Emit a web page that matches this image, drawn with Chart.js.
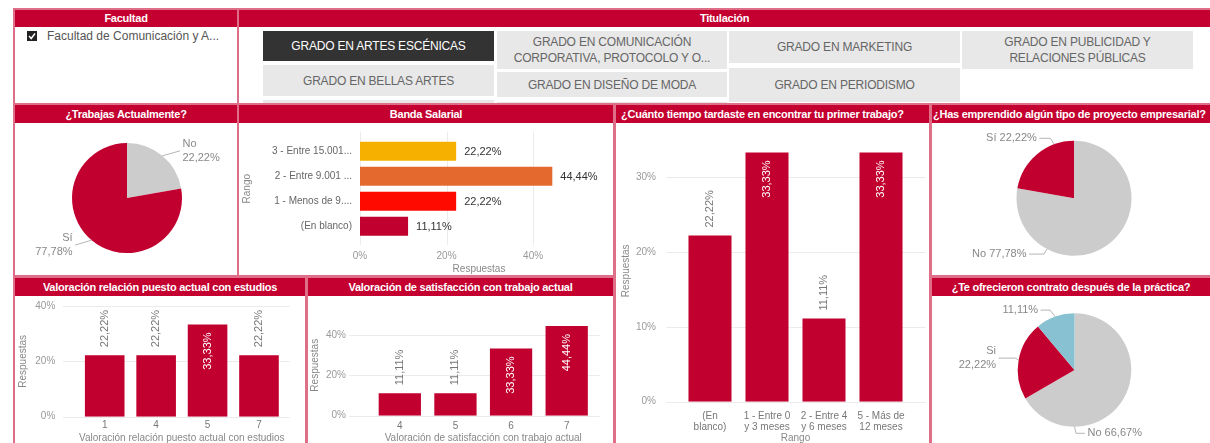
<!DOCTYPE html>
<html><head><meta charset="utf-8">
<script src="https://cdn.jsdelivr.net/npm/chart.js@4.4.1/dist/chart.umd.min.js"></script>
<style>
html,body{margin:0;padding:0;width:1210px;height:443px;overflow:hidden;background:#fff;font-family:'Liberation Sans',Arial,sans-serif;}
.panel{position:absolute;box-sizing:border-box;border:2px solid #df6f88;background:#fff;overflow:hidden;}
.hdr{position:absolute;left:0;right:0;top:0;height:18px;line-height:18px;background:#c3002f;color:#fff;font-size:11px;font-weight:bold;letter-spacing:-0.25px;text-align:center;white-space:nowrap;overflow:hidden;}
.hdr.l{text-align:left;}
.btn{position:absolute;box-sizing:border-box;background:#e8e8e8;color:#666;font-size:12px;display:flex;align-items:center;justify-content:center;text-align:center;line-height:16px;letter-spacing:-0.2px;}
.btn.sel{background:#333;color:#fff;}
canvas{position:absolute;}
</style></head><body>
<div class="panel" style="left:13px;top:8px;width:226px;height:98px;"><div class="hdr" style="height:17px;line-height:17px;">Facultad</div></div>
<div class="panel" style="left:237px;top:8px;width:975px;height:98px;"><div class="hdr" style="height:17px;line-height:17px;">Titulación</div></div>
<svg style="position:absolute;left:27px;top:31px" width="10" height="10"><rect x="0" y="0" width="10" height="10" fill="#222"/><polyline points="2,5 4.2,7.5 8,2.5" fill="none" stroke="#fff" stroke-width="1.5"/></svg>
<div style="position:absolute;left:47px;top:28px;font-size:12px;line-height:16px;color:#555;white-space:nowrap;">Facultad de Comunicación y A...</div>
<div class="btn sel" style="left:263px;top:31px;width:231px;height:30px;">GRADO EN ARTES ESCÉNICAS</div>
<div class="btn" style="left:263px;top:65px;width:231px;height:31px;">GRADO EN BELLAS ARTES</div>
<div class="btn" style="left:263px;top:99.5px;width:231px;height:30px;"></div>
<div class="btn" style="left:497px;top:31px;width:230px;height:38px;">GRADO EN COMUNICACIÓN<br>CORPORATIVA, PROTOCOLO Y O...</div>
<div class="btn" style="left:497px;top:72px;width:230px;height:25px;">GRADO EN DISEÑO DE MODA</div>
<div class="btn" style="left:497px;top:101.5px;width:230px;height:30px;"></div>
<div class="btn" style="left:729px;top:31px;width:231px;height:32px;">GRADO EN MARKETING</div>
<div class="btn" style="left:729px;top:68px;width:231px;height:34px;">GRADO EN PERIODISMO</div>
<div class="btn" style="left:962px;top:31px;width:231px;height:38px;">GRADO EN PUBLICIDAD Y<br>RELACIONES PÚBLICAS</div>

<div class="panel" style="left:13px;top:103px;width:226px;height:174px;"><div class="hdr">¿Trabajas Actualmente?</div></div>
<div class="panel" style="left:237px;top:103px;width:378px;height:174px;"><div class="hdr">Banda Salarial</div></div>
<div class="panel" style="left:614px;top:103px;width:317px;height:345px;"><div class="hdr l" style="padding-left:5px;">¿Cuánto tiempo tardaste en encontrar tu primer trabajo?</div></div>
<div class="panel" style="left:930px;top:103px;width:282px;height:174px;"><div class="hdr l" style="padding-left:1px;">¿Has emprendido algún tipo de proyecto empresarial?</div></div>
<div class="panel" style="left:13px;top:276px;width:294px;height:172px;"><div class="hdr">Valoración relación puesto actual con estudios</div></div>
<div class="panel" style="left:306px;top:276px;width:309px;height:172px;"><div class="hdr">Valoración de satisfacción con trabajo actual</div></div>
<div class="panel" style="left:930px;top:276px;width:282px;height:172px;"><div class="hdr">¿Te ofrecieron contrato después de la práctica?</div></div>

<script>
// ---- DATA ----
const trabajasCategorias = ['No', 'Sí'];
const trabajasValores = [22.22, 77.78];
const bandaCategorias = ['3 - Entre 15.001...', '2 - Entre 9.001 ...', '1 - Menos de 9....', '(En blanco)'];
const bandaValores = [22.22, 44.44, 22.22, 11.11];
const bandaTicks = [0, 20, 40];
const tiempoCategorias = [['(En', 'blanco)'], ['1 - Entre 0', 'y 3 meses'], ['2 - Entre 4', 'y 6 meses'], ['5 - Más de', '12 meses']];
const tiempoValores = [22.22, 33.33, 11.11, 33.33];
const tiempoTicks = [0, 10, 20, 30];
const emprendCategorias = ['No', 'Sí'];
const emprendValores = [77.78, 22.22];
const relacionCategorias = ['1', '4', '5', '7'];
const relacionValores = [22.22, 22.22, 33.33, 22.22];
const relacionTicks = [0, 20, 40];
const satisfCategorias = ['4', '5', '6', '7'];
const satisfValores = [11.11, 11.11, 33.33, 44.44];
const satisfTicks = [0, 20, 40];
const contratoCategorias = ['No', 'Si', ''];
const contratoValores = [66.67, 22.22, 11.11];

// ---- STYLE ----
const CRIMSON = '#c2002f', GRAY = '#cccccc', BLUE = '#88c2d2';
const bandaColores = ['#f5b000', '#e4692e', '#ff0a00', CRIMSON];
const FONT = '"Liberation Sans", Arial, sans-serif';
Chart.defaults.font.family = FONT;
Chart.defaults.font.size = 10;

const fmt = v => v.toFixed(2).replace('.', ',') + '%';

function makeCanvas(l, t, w, h) {
  const c = document.createElement('canvas');
  c.width = w; c.height = h;
  c.style.left = l + 'px'; c.style.top = t + 'px';
  c.style.width = w + 'px'; c.style.height = h + 'px';
  document.body.appendChild(c);
  return c;
}

const extGrid = {
  id: 'extGrid',
  beforeDatasetsDraw(chart, args, o) {
    const {ctx, chartArea: a} = chart;
    const hor = chart.options.indexAxis === 'y';
    const sc = hor ? chart.scales.x : chart.scales.y;
    ctx.save();
    ctx.strokeStyle = '#ebebeb'; ctx.lineWidth = 1;
    sc.ticks.forEach(t => {
      const p = Math.round(sc.getPixelForValue(t.value)) + 0.5;
      ctx.beginPath();
      if (hor) { ctx.moveTo(p, a.top - (o.top || 0)); ctx.lineTo(p, a.bottom + (o.bottom || 0)); }
      else { ctx.moveTo(a.left - (o.left || 0), p); ctx.lineTo(a.right + (o.right || 0), p); }
      ctx.stroke();
    });
    ctx.restore();
  }
};

const barLabels = {
  id: 'barLabels',
  afterDatasetsDraw(chart) {
    const ctx = chart.ctx, a = chart.chartArea;
    const meta = chart.getDatasetMeta(0);
    const vals = chart.data.datasets[0].data;
    ctx.save();
    ctx.font = '11px ' + FONT;
    meta.data.forEach((bar, i) => {
      const txt = fmt(vals[i]);
      const w = ctx.measureText(txt).width;
      if (chart.options.indexAxis === 'y') {
        ctx.fillStyle = '#333'; ctx.textAlign = 'left'; ctx.textBaseline = 'middle';
        ctx.fillText(txt, bar.x + 8, bar.y + 0.5);
      } else {
        const gap = 8;
        const outside = bar.y - gap - w >= a.top;
        ctx.save();
        ctx.translate(bar.x, outside ? bar.y - gap : bar.y + gap);
        ctx.rotate(-Math.PI / 2);
        ctx.textAlign = outside ? 'left' : 'right';
        ctx.textBaseline = 'middle';
        ctx.fillStyle = outside ? '#777' : '#fff';
        ctx.fillText(txt, 0, 0);
        ctx.restore();
      }
    });
    ctx.restore();
  }
};

const pieLabels = {
  id: 'pieLabels',
  afterDatasetsDraw(chart, args, o) {
    const ctx = chart.ctx;
    const meta = chart.getDatasetMeta(0);
    const vals = chart.data.datasets[0].data, cats = chart.data.labels;
    ctx.save();
    ctx.font = '11px ' + FONT;
    ctx.textBaseline = 'middle';
    meta.data.forEach((arc, i) => {
      const s = o.spec[i];
      const ang = s.a != null ? (s.a - 90) * Math.PI / 180 : (arc.startAngle + arc.endAngle) / 2;
      const r = arc.outerRadius;
      const tx = arc.x + r * Math.cos(ang), ty = arc.y + r * Math.sin(ang);
      const ex = tx + s.ex, ey = ty + s.ey, hx = ex + s.h;
      ctx.strokeStyle = '#b5b5b5'; ctx.lineWidth = 1;
      ctx.beginPath(); ctx.moveTo(tx, ty); ctx.lineTo(ex, ey); ctx.lineTo(hx, ey); ctx.stroke();
      const dir = s.h !== 0 ? Math.sign(s.h) : Math.sign(s.ex);
      const pct = fmt(vals[i]);
      const lines = !cats[i] ? [pct] : (s.two ? [cats[i], pct] : [cats[i] + ' ' + pct]);
      ctx.fillStyle = '#888';
      ctx.textAlign = dir > 0 ? 'left' : 'right';
      const lh = 13.5;
      lines.forEach((ln, k) => ctx.fillText(ln, hx + dir * 2.5, ey + (k - (lines.length - 1) / 2) * lh));
    });
    ctx.restore();
  }
};

function vbar(l, t, w, h, cats, vals, ticks, o) {
  const cv = makeCanvas(l, t, w, h);
  return new Chart(cv, {
    type: 'bar',
    data: {labels: cats, datasets: [{data: vals, backgroundColor: CRIMSON, barPercentage: o.bp, categoryPercentage: 1}]},
    options: {
      responsive: false, animation: false, devicePixelRatio: 1,
      layout: {padding: {top: o.pt, right: o.pr, left: 0, bottom: 0}},
      plugins: {legend: {display: false}, tooltip: {enabled: false}, extGrid: {left: o.gl, right: o.gr}},
      scales: {
        x: {
          grid: {display: false, drawTicks: false}, border: {display: false},
          ticks: {color: '#777', font: {size: 10, lineHeight: 1.1}, padding: o.xtp, maxRotation: 0, autoSkip: false},
          title: {display: true, text: o.xtitle, color: '#888', font: {size: 10}, padding: {top: 0, bottom: o.xttb}},
          afterFit: s => { s.height = o.xh; s.paddingLeft = 0; s.paddingRight = 0; }
        },
        y: {
          min: 0, max: o.max,
          grid: {display: false, drawTicks: false}, border: {display: false},
          ticks: {color: '#999', font: {size: 10}, padding: o.ytp, callback: v => v + '%'},
          afterBuildTicks: s => { s.ticks = ticks.map(v => ({value: v})); },
          title: {display: true, text: 'Respuestas', color: '#888', font: {size: 10}, padding: {top: o.yttp, bottom: 0}},
          afterFit: s => { s.width = o.yw; s.paddingTop = 0; s.paddingBottom = 0; }
        }
      }
    },
    plugins: [extGrid, barLabels]
  });
}

function pie(l, t, w, h, cats, vals, colors, pad, spec) {
  const cv = makeCanvas(l, t, w, h);
  return new Chart(cv, {
    type: 'pie',
    data: {labels: cats, datasets: [{data: vals, backgroundColor: colors, borderWidth: 0}]},
    options: {
      responsive: false, animation: false, devicePixelRatio: 1,
      layout: {padding: pad},
      plugins: {legend: {display: false}, tooltip: {enabled: false}, pieLabels: {spec: spec}}
    },
    plugins: [pieLabels]
  });
}

// ¿Trabajas Actualmente?
pie(15, 124, 221, 151, trabajasCategorias, trabajasValores, [GRAY, CRIMSON],
  {left: 57, right: 54, top: 19, bottom: 22},
  [{ex: 17.6, ey: -5, h: 0, two: true}, {ex: -16.6, ey: 5, h: 0, two: true}]);

// ¿Has emprendido...?
pie(932, 124, 278, 151, emprendCategorias, emprendValores, [GRAY, CRIMSON],
  {left: 84.5, right: 78.5, top: 16.8, bottom: 19.2},
  [{a: 208, ex: -3, ey: 5, h: -15}, {a: 340, ex: -4, ey: -6, h: -11}]);

// ¿Te ofrecieron contrato...?
pie(932, 297, 278, 150, contratoCategorias, contratoValores, [GRAY, CRIMSON, BLUE],
  {left: 85.7, right: 78.7, top: 16.2, bottom: 20.2},
  [{a: 180, ex: 1.5, ey: 6.5, h: 9}, {ex: -3, ey: -2, h: -17, two: true}, {ex: -5, ey: -6.5, h: -9.5}]);

// Banda Salarial
(function () {
  const cv = makeCanvas(240, 124, 372, 151);
  new Chart(cv, {
    type: 'bar',
    data: {labels: bandaCategorias, datasets: [{data: bandaValores, backgroundColor: bandaColores, barPercentage: 0.76, categoryPercentage: 1}]},
    options: {
      indexAxis: 'y', responsive: false, animation: false, devicePixelRatio: 1,
      layout: {padding: {top: 14.7, right: 14, left: 0, bottom: 0}},
      plugins: {legend: {display: false}, tooltip: {enabled: false}, extGrid: {top: 7, bottom: 6}},
      scales: {
        x: {
          min: 0, max: 55,
          grid: {display: false, drawTicks: false}, border: {display: false},
          ticks: {color: '#999', font: {size: 10}, padding: 11.3, callback: v => v + '%'},
          afterBuildTicks: s => { s.ticks = bandaTicks.map(v => ({value: v})); },
          title: {display: true, text: 'Respuestas', color: '#888', font: {size: 10}, padding: {top: 0, bottom: 0}},
          afterFit: s => { s.height = 36.3; s.paddingLeft = 0; s.paddingRight = 0; }
        },
        y: {
          grid: {display: false, drawTicks: false}, border: {display: false},
          ticks: {color: '#666', font: {size: 10}, padding: 8, autoSkip: false},
          title: {display: true, text: 'Rango', color: '#888', font: {size: 10}, padding: {top: 1, bottom: 0}},
          afterFit: s => { s.width = 120; s.paddingTop = 0; s.paddingBottom = 0; }
        }
      }
    },
    plugins: [extGrid, barLabels]
  });
})();

// ¿Cuánto tiempo tardaste...?
vbar(616, 124, 313, 324, tiempoCategorias, tiempoValores, tiempoTicks,
  {yw: 65.5, pt: 15.9, pr: 19.5, xh: 46.3, max: 35, ytp: 25.5, yttp: 4, xtp: 9.5, xttb: 3.7, gl: 15.5, gr: 16.5, bp: 0.755, xtitle: 'Rango'});

// Valoración relación puesto actual con estudios
vbar(15, 297, 290, 150, relacionCategorias, relacionValores, relacionTicks,
  {yw: 64, pt: 9, pr: 20.3, xh: 30.3, max: 40, ytp: 23.7, yttp: 2.7, xtp: 3.5, xttb: 3, gl: 16, gr: 5, bp: 0.77, xtitle: 'Valoración relación puesto actual con estudios'});

// Valoración de satisfacción con trabajo actual
vbar(308, 297, 305, 150, satisfCategorias, satisfValores, satisfTicks,
  {yw: 64, pt: 17.8, pr: 18.5, xh: 31.3, max: 50, ytp: 26, yttp: 1, xtp: 4.8, xttb: 3, gl: 23, gr: 5, bp: 0.76, xtitle: 'Valoración de satisfacción con trabajo actual'});
</script>
</body></html>
